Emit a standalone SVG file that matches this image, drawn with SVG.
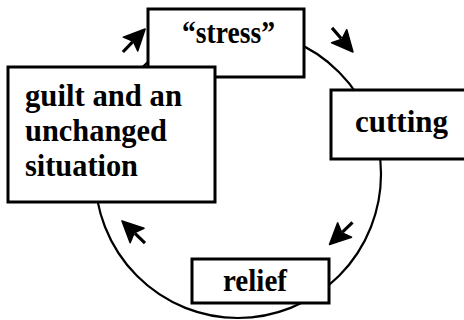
<svg xmlns="http://www.w3.org/2000/svg" width="464" height="320" viewBox="0 0 464 320">
<style>
.box{fill:#fff;stroke:#000;stroke-width:3}
.lbl{font-family:"Liberation Serif","Times New Roman",serif;font-weight:bold;font-size:31px;fill:#000}
.ring{fill:none;stroke:#000;stroke-width:2.2}
</style>
<defs>
<g id="arr">
<line x1="-16" y1="0" x2="-2" y2="0" stroke="#000" stroke-width="3.2"/>
<path d="M16,0 L-5,-10 L-1,0 L-5,10 Z" fill="#000" stroke="#000" stroke-width="1.5" stroke-linejoin="round"/>
</g>
</defs>
<rect width="464" height="320" fill="#fff"/>
<g id="connectors">
<ellipse class="ring" cx="238" cy="174" rx="143" ry="144"/>
<use href="#arr" transform="translate(134,40.5) rotate(-46)"/>
<use href="#arr" transform="translate(342.5,40) rotate(49)"/>
<use href="#arr" transform="translate(341,233.5) rotate(136)"/>
<use href="#arr" transform="translate(133.5,232) rotate(224)"/>
</g>
<g id="stress">
<rect class="box" x="148" y="9" width="156" height="68"/>
<text class="lbl" x="182" y="43" textLength="93" lengthAdjust="spacingAndGlyphs">“stress”</text>
</g>
<g id="guilt">
<rect class="box" x="8" y="67" width="207" height="135"/>
<text class="lbl" x="25" y="106" textLength="157" lengthAdjust="spacingAndGlyphs">guilt and an</text>
<text class="lbl" x="25" y="141" textLength="142" lengthAdjust="spacingAndGlyphs">unchanged</text>
<text class="lbl" x="25" y="176" textLength="113" lengthAdjust="spacingAndGlyphs">situation</text>
</g>
<g id="cutting">
<rect class="box" x="331" y="90" width="140" height="69"/>
<text class="lbl" x="355" y="132" textLength="93" lengthAdjust="spacingAndGlyphs">cutting</text>
</g>
<g id="relief">
<rect class="box" x="192" y="259" width="137" height="44"/>
<text class="lbl" x="223" y="291" textLength="64" lengthAdjust="spacingAndGlyphs">relief</text>
</g>
</svg>
